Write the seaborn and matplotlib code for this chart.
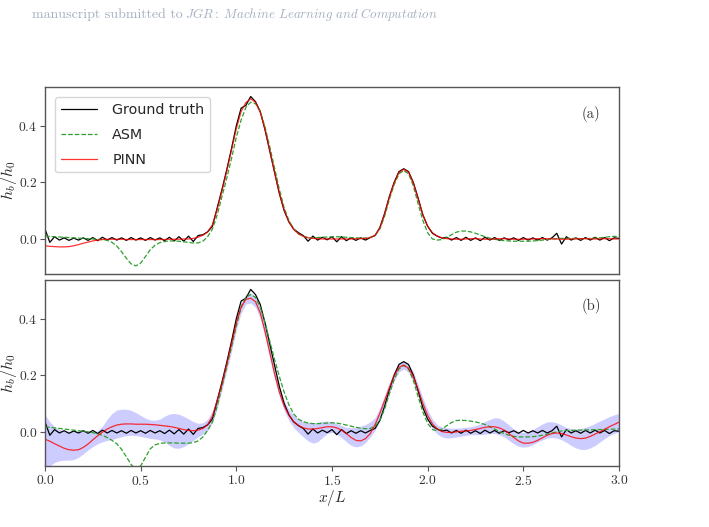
import numpy as np
import matplotlib
matplotlib.use("Agg")
import matplotlib.pyplot as plt
import seaborn as sns

# sample positions x/L (0 to 3, step 0.025)
x = np.round(np.arange(121) * 0.025, 3)

# ground truth h_b/h_0 (same in both panels)
truth = [
    0.035, -0.012, 0.008, -0.004, 0.004, -0.005, 0.003, -0.004, 0.004, -0.005,
    0.005, -0.006, 0.006, -0.004, 0.005, -0.004, 0.004, -0.005, 0.005, -0.004,
    0.004, -0.005, 0.005, -0.004, 0.004, -0.006, 0.006, -0.007, 0.008, -0.008,
    0.010, -0.009, 0.012, 0.015, 0.025, 0.045, 0.110, 0.175, 0.245, 0.320,
    0.400, 0.462, 0.472, 0.503, 0.485, 0.450, 0.385, 0.310, 0.235, 0.160,
    0.100, 0.060, 0.035, 0.022, 0.012, -0.008, 0.010, -0.004, 0.006, -0.003,
    0.008, -0.010, 0.008, -0.006, 0.004, -0.005, 0.004, -0.004, 0.005, 0.012,
    0.040, 0.090, 0.150, 0.200, 0.238, 0.248, 0.238, 0.200, 0.145, 0.085,
    0.045, 0.020, 0.010, 0.003, 0.006, -0.004, 0.005, -0.005, 0.006, -0.005,
    0.004, -0.006, 0.006, -0.004, 0.005, -0.005, 0.004, -0.003, 0.004, -0.005,
    0.005, -0.004, 0.004, -0.004, 0.005, -0.004, 0.004, 0.020, -0.018, 0.008,
    -0.004, 0.004, -0.005, 0.005, -0.004, 0.006, -0.004, 0.005, -0.006, 0.004,
    0.002,
]

# panel (a)
asm_a = [
    0.010, 0.009, 0.008, 0.007, 0.006, 0.005, 0.004, 0.003, 0.002, 0.001,
    0.000, -0.001, -0.002, -0.005, -0.012, -0.025, -0.045, -0.068, -0.088, -0.095,
    -0.085, -0.062, -0.038, -0.022, -0.013, -0.009, -0.007, -0.007, -0.008, -0.010,
    -0.012, -0.014, -0.014, -0.008, 0.008, 0.035, 0.085, 0.150, 0.215, 0.285,
    0.360, 0.420, 0.465, 0.483, 0.478, 0.450, 0.395, 0.325, 0.250, 0.175,
    0.110, 0.065, 0.035, 0.018, 0.010, 0.005, 0.004, 0.005, 0.006, 0.007,
    0.008, 0.008, 0.007, 0.006, 0.005, 0.004, 0.003, 0.003, 0.005, 0.012,
    0.035, 0.080, 0.140, 0.192, 0.230, 0.242, 0.230, 0.188, 0.125, 0.065,
    0.022, 0.000, -0.004, -0.002, 0.005, 0.015, 0.024, 0.028, 0.028, 0.025,
    0.020, 0.014, 0.008, 0.003, -0.001, -0.004, -0.006, -0.007, -0.008, -0.008,
    -0.008, -0.008, -0.007, -0.006, -0.004, -0.002, 0.000, 0.001, 0.002, 0.002,
    0.002, 0.002, 0.001, 0.001, 0.002, 0.003, 0.004, 0.006, 0.008, 0.009,
    0.009,
]
pinn_a = [
    -0.024, -0.026, -0.027, -0.028, -0.028, -0.027, -0.024, -0.020, -0.015, -0.011,
    -0.007, -0.004, -0.002, -0.001, -0.001, -0.001, -0.001, -0.002, -0.002, -0.002,
    -0.002, -0.002, -0.002, -0.002, -0.002, -0.002, -0.001, -0.001, -0.001, 0.000,
    0.000, 0.002, 0.006, 0.013, 0.025, 0.050, 0.105, 0.170, 0.240, 0.315,
    0.390, 0.450, 0.482, 0.495, 0.483, 0.448, 0.388, 0.312, 0.235, 0.162,
    0.102, 0.060, 0.033, 0.018, 0.009, 0.004, 0.002, 0.001, 0.000, 0.000,
    0.000, 0.000, 0.000, 0.000, 0.000, 0.001, 0.001, 0.002, 0.005, 0.013,
    0.038, 0.088, 0.148, 0.198, 0.235, 0.246, 0.236, 0.198, 0.142, 0.085,
    0.045, 0.022, 0.010, 0.004, 0.001, 0.000, -0.001, -0.001, 0.000, 0.001,
    0.001, 0.000, -0.001, -0.001, 0.000, 0.001, 0.001, 0.000, -0.001, -0.001,
    -0.001, 0.000, 0.000, 0.001, 0.001, 0.001, 0.000, 0.000, -0.001, -0.001,
    0.000, 0.000, 0.001, 0.001, 0.000, 0.000, 0.000, 0.001, 0.001, 0.000,
    0.000,
]

# panel (b)
asm_b = [
    0.018, 0.016, 0.014, 0.012, 0.010, 0.008, 0.006, 0.004, 0.002, 0.000,
    -0.003, -0.007, -0.012, -0.020, -0.030, -0.042, -0.062, -0.088, -0.115, -0.135,
    -0.120, -0.090, -0.060, -0.046, -0.041, -0.039, -0.039, -0.039, -0.040, -0.040,
    -0.040, -0.038, -0.032, -0.018, 0.005, 0.035, 0.090, 0.160, 0.230, 0.300,
    0.375, 0.440, 0.475, 0.485, 0.475, 0.440, 0.385, 0.320, 0.255, 0.195,
    0.140, 0.095, 0.063, 0.045, 0.036, 0.031, 0.029, 0.029, 0.030, 0.031,
    0.032, 0.031, 0.028, 0.024, 0.020, 0.016, 0.013, 0.011, 0.012, 0.020,
    0.040, 0.080, 0.135, 0.185, 0.222, 0.235, 0.222, 0.182, 0.125, 0.070,
    0.030, 0.008, 0.004, 0.010, 0.022, 0.033, 0.040, 0.041, 0.040, 0.038,
    0.035, 0.031, 0.026, 0.018, 0.010, 0.001, -0.006, -0.012, -0.016, -0.018,
    -0.018, -0.018, -0.017, -0.015, -0.012, -0.008, -0.004, 0.000, 0.003, 0.005,
    0.005, 0.006, 0.006, 0.007, 0.007, 0.008, 0.008, 0.009, 0.009, 0.010,
    0.010,
]
pinn_b = [
    -0.026, -0.033, -0.042, -0.050, -0.058, -0.063, -0.065, -0.063, -0.055, -0.043,
    -0.028, -0.014, -0.001, 0.010, 0.018, 0.024, 0.027, 0.028, 0.028, 0.027,
    0.027, 0.027, 0.026, 0.025, 0.023, 0.021, 0.019, 0.016, 0.012, 0.008,
    0.005, 0.004, 0.006, 0.012, 0.025, 0.055, 0.110, 0.170, 0.240, 0.310,
    0.385, 0.440, 0.468, 0.472, 0.460, 0.420, 0.355, 0.280, 0.205, 0.140,
    0.092, 0.058, 0.036, 0.022, 0.014, 0.010, 0.010, 0.012, 0.015, 0.018,
    0.018, 0.014, 0.006, -0.006, -0.020, -0.030, -0.032, -0.024, -0.006, 0.025,
    0.065, 0.110, 0.155, 0.198, 0.228, 0.236, 0.225, 0.195, 0.150, 0.100,
    0.058, 0.028, 0.010, 0.001, -0.002, -0.002, 0.000, 0.002, 0.003, 0.005,
    0.008, 0.012, 0.016, 0.018, 0.018, 0.014, 0.006, -0.006, -0.020, -0.032,
    -0.040, -0.040, -0.037, -0.030, -0.021, -0.012, -0.006, -0.004, -0.006, -0.011,
    -0.017, -0.022, -0.024, -0.022, -0.016, -0.008, 0.000, 0.009, 0.018, 0.026,
    0.034,
]
band_hi = [
    0.060, 0.035, 0.018, 0.008, 0.004, 0.002, 0.002, 0.003, 0.004, 0.003,
    0.001, 0.004, 0.020, 0.045, 0.065, 0.077, 0.080, 0.080, 0.076, 0.068,
    0.058, 0.048, 0.042, 0.041, 0.045, 0.055, 0.063, 0.065, 0.062, 0.055,
    0.046, 0.036, 0.030, 0.032, 0.045, 0.075, 0.130, 0.195, 0.265, 0.335,
    0.405, 0.458, 0.485, 0.490, 0.478, 0.440, 0.375, 0.300, 0.225, 0.160,
    0.110, 0.078, 0.058, 0.045, 0.037, 0.033, 0.032, 0.034, 0.037, 0.038,
    0.036, 0.030, 0.022, 0.016, 0.014, 0.016, 0.020, 0.026, 0.035, 0.050,
    0.085, 0.130, 0.175, 0.215, 0.243, 0.250, 0.240, 0.212, 0.168, 0.120,
    0.078, 0.045, 0.025, 0.017, 0.014, 0.013, 0.013, 0.014, 0.016, 0.018,
    0.022, 0.028, 0.036, 0.044, 0.050, 0.048, 0.038, 0.024, 0.010, 0.001,
    -0.002, 0.000, 0.008, 0.018, 0.028, 0.035, 0.036, 0.032, 0.024, 0.016,
    0.011, 0.010, 0.012, 0.016, 0.022, 0.030, 0.038, 0.046, 0.054, 0.060,
    0.065,
]
band_lo = [
    -0.140, -0.120, -0.108, -0.102, -0.100, -0.100, -0.098, -0.090, -0.078, -0.064,
    -0.052, -0.042, -0.035, -0.030, -0.027, -0.022, -0.017, -0.013, -0.012, -0.013,
    -0.016, -0.020, -0.023, -0.025, -0.028, -0.036, -0.048, -0.057, -0.058, -0.052,
    -0.042, -0.030, -0.018, -0.008, 0.005, 0.032, 0.085, 0.148, 0.215, 0.285,
    0.360, 0.420, 0.452, 0.455, 0.440, 0.400, 0.335, 0.260, 0.188, 0.125,
    0.075, 0.040, 0.015, -0.003, -0.018, -0.032, -0.040, -0.035, -0.020, -0.006,
    -0.002, -0.008, -0.020, -0.035, -0.048, -0.053, -0.050, -0.038, -0.018, 0.005,
    0.040, 0.088, 0.135, 0.180, 0.212, 0.222, 0.210, 0.178, 0.130, 0.080,
    0.040, 0.012, -0.008, -0.018, -0.022, -0.021, -0.018, -0.015, -0.012, -0.010,
    -0.010, -0.010, -0.008, -0.006, -0.006, -0.010, -0.018, -0.030, -0.042, -0.051,
    -0.054, -0.052, -0.045, -0.036, -0.028, -0.022, -0.020, -0.022, -0.028, -0.037,
    -0.048, -0.057, -0.062, -0.062, -0.057, -0.048, -0.036, -0.024, -0.013, -0.005,
    0.000,
]

xticks = [0.0, 0.5, 1.0, 1.5, 2.0, 2.5, 3.0]
yticks = [0.0, 0.2, 0.4]
panel_tags = ["(a)", "(b)"]

sns.set_style("ticks")
plt.rcParams["font.family"] = ["cmr10", "DejaVu Serif"]
plt.rcParams["mathtext.fontset"] = "cm"
plt.rcParams["axes.formatter.use_mathtext"] = True
plt.rcParams["axes.edgecolor"] = "#555555"
plt.rcParams["axes.linewidth"] = 1.0
plt.rcParams["xtick.color"] = "#555555"
plt.rcParams["ytick.color"] = "#555555"
plt.rcParams["xtick.labelcolor"] = "#333333"
plt.rcParams["ytick.labelcolor"] = "#333333"

fig = plt.figure(figsize=(7.09, 5.27), dpi=100)
ax_a = fig.add_axes([0.0635, 0.481, 0.8095, 0.353])
ax_b = fig.add_axes([0.0635, 0.115, 0.8095, 0.353])

lw = 0.9
sns.lineplot(x=x, y=truth, ax=ax_a, color="black", lw=lw, label="Ground truth")
sns.lineplot(x=x, y=asm_a, ax=ax_a, color="#2ca02c", lw=lw, linestyle="--", label="ASM")
sns.lineplot(x=x, y=pinn_a, ax=ax_a, color="red", alpha=0.8, lw=lw, label="PINN")

ax_b.fill_between(x, band_lo, band_hi, color="blue", alpha=0.2, lw=0)
sns.lineplot(x=x, y=truth, ax=ax_b, color="black", lw=lw)
sns.lineplot(x=x, y=asm_b, ax=ax_b, color="#2ca02c", lw=lw, linestyle="--")
sns.lineplot(x=x, y=pinn_b, ax=ax_b, color="red", alpha=0.8, lw=lw)

for ax, tag in zip([ax_a, ax_b], panel_tags):
    ax.set_xlim(0, 3)
    ax.set_ylim(-0.122, 0.535)
    ax.set_xticks(xticks)
    ax.set_yticks(yticks)
    ax.set_ylabel(r"$h_b/h_0$", fontsize=11.5)
    ax.yaxis.set_label_coords(-0.046, 0.5)
    ax.tick_params(direction="out", length=3.5, width=0.8, labelsize=9.8, pad=2.0)
    ax.text(0.952, 0.86, tag, transform=ax.transAxes, ha="center", va="center",
            fontsize=10.5, color="#333333")

ax_a.tick_params(axis="x", bottom=False, labelbottom=False)
ax_a.set_xlabel("")
ax_b.set_xlabel(r"$x/L$", fontsize=11, labelpad=0)

ax_a.legend(loc="upper left", prop={"family": "DejaVu Sans", "size": 10.3},
            handlelength=2.5, handletextpad=1.1, labelspacing=0.75,
            borderaxespad=0.7, fancybox=True, edgecolor="#cccccc")

fig.text(32 / 709, 0.973, "manuscript submitted to",
         ha="left", va="center", fontsize=10, color="#a5b0c0")
fig.text(185 / 709, 0.973, r"$\mathit{JGR:\ Machine\ Learning\ and\ Computation}$",
         ha="left", va="center", fontsize=9.3, color="#a5b0c0")

fig.savefig("out.png", dpi=100)
